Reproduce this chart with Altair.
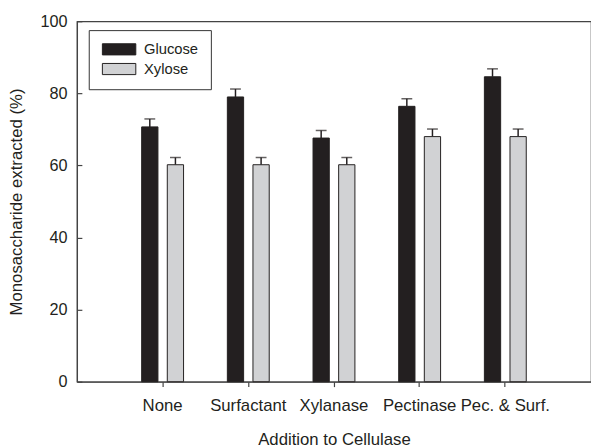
import altair as alt
import pandas as pd

categories = ["None", "Surfactant", "Xylanase", "Pectinase", "Pec. & Surf."]
sugars = ["Glucose", "Xylose"]
glucose = [70.7, 79.0, 67.6, 76.4, 84.6]
glucose_err = [2.2, 2.2, 2.1, 2.1, 2.2]
xylose = [60.2, 60.2, 60.2, 68.0, 68.0]
xylose_err = [2.0, 2.0, 2.0, 2.1, 2.1]
colors = ["#231f20", "#d1d2d4"]

rows = []
for i, c in enumerate(categories):
    rows.append({"category": c, "sugar": "Glucose", "value": glucose[i], "upper": glucose[i] + glucose_err[i]})
    rows.append({"category": c, "sugar": "Xylose", "value": xylose[i], "upper": xylose[i] + xylose_err[i]})
df = pd.DataFrame(rows)

FONT = "Liberation Sans"
DARK = "#231f20"
AX = "#444444"

x_enc = alt.X(
    "category:N", sort=categories,
    scale=alt.Scale(paddingInner=0.402, paddingOuter=0.701),
    axis=alt.Axis(title="Addition to Cellulase", labelAngle=0, tickSize=5, labelPadding=11,
                  titlePadding=19, domainColor=AX, tickColor=AX, domainWidth=1.2, tickWidth=1.2),
)
xo_enc = alt.XOffset("sugar:N", sort=sugars,
                     scale=alt.Scale(paddingInner=0.365, paddingOuter=0.1825))
y_scale = alt.Scale(domain=[0, 100], nice=False)

base = alt.Chart(df).encode(x=x_enc, xOffset=xo_enc)

bars = base.mark_bar(stroke=DARK, strokeWidth=1).encode(
    y=alt.Y("value:Q", scale=y_scale,
            axis=alt.Axis(title="Monosaccharide extracted (%)", values=[0, 20, 40, 60, 80, 100],
                          tickSize=alt.ExprRef(expr="-5"), labelPadding=15, grid=False,
                          domainColor=AX, tickColor=AX, domainWidth=1.2, tickWidth=1.2,
                          titlePadding=15)),
    color=alt.Color("sugar:N", sort=sugars,
                    scale=alt.Scale(domain=sugars, range=colors),
                    legend=alt.Legend(title=None, orient="none", legendX=12, legendY=9,
                                      symbolType="M-1,-1H5V1H-1Z", symbolSize=128,
                                      symbolStrokeColor=DARK, symbolStrokeWidth=1,
                                      labelFontSize=15, labelOffset=29, rowPadding=3,
                                      padding=12, strokeColor="#333333", fillColor="white",
                                      labelFont=FONT, labelColor="#231f20")),
)
rules = base.mark_rule(color=DARK, strokeWidth=1.5).encode(y="value:Q", y2="upper:Q")
caps = base.mark_tick(color=DARK, thickness=1.5, size=11).encode(y="upper:Q")

chart = alt.layer(rules, bars, caps).properties(
    width=522, height=366, autosize="none",
    padding={"left": 70, "top": 10, "right": 0, "bottom": 74},
    background="white",
).configure_view(stroke=AX, strokeWidth=1.2).configure_axis(
    labelFont=FONT, titleFont=FONT, labelFontSize=16.5, titleFontSize=17,
    labelColor="#231f20", titleColor="#231f20", titleFontWeight="normal",
).configure_axisX(labelFontSize=17)

chart.save("out.html", embed_options={"renderer": "svg", "actions": False})
